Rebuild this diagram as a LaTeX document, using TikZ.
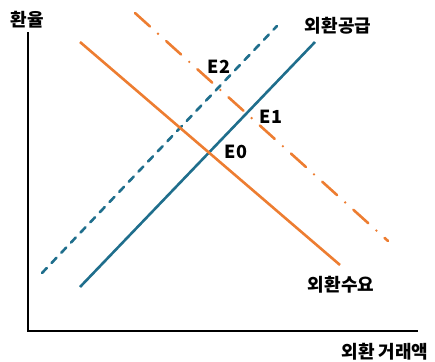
\documentclass[tikz,border=0pt]{standalone}
\usepackage{fontspec}
\newfontfamily\kr{Noto Sans CJK KR}
\setmainfont{Noto Sans}
\definecolor{supblue}{HTML}{1F6E8C}
\definecolor{demorange}{HTML}{ED7D31}
\tikzset{
  axisline/.style={line width=2.6pt, black},
  supline/.style={line width=2.6pt, supblue},
  demline/.style={line width=2.6pt, demorange},
  lbl/.style={font=\kr\bfseries\fontsize{18}{20}\selectfont, inner sep=0pt},
}
\begin{document}
\begin{tikzpicture}[x=1pt,y=-1pt]
\useasboundingbox (0,0) rectangle (435,361);
% axes
\coordinate (ytop) at (28,33);
\coordinate (orig) at (28,331);
\coordinate (xend) at (417,331);
\draw[axisline, line cap=rect] (ytop) -- (orig) -- (xend);
% supply
\coordinate (s0a) at (80,287);
\coordinate (s0b) at (315,42);
\draw[supline] (s0a) -- (s0b);
\coordinate (s1a) at (42,273);
\coordinate (s1b) at (277,26);
\draw[supline, line cap=round, dash pattern=on 7pt off 7pt] (s1a) -- (s1b);
% demand
\coordinate (d0a) at (80,42);
\coordinate (d0b) at (340,265);
\draw[demline] (d0a) -- (d0b);
\coordinate (d1a) at (135,13);
\coordinate (d1b) at (388,241);
\draw[demline, line cap=round, dash pattern=on 20pt off 11pt on 0pt off 11pt] (d1a) -- (d1b);
% labels
\node[lbl] (yl) at (27,20) {환율};
\node[lbl] (xl) at (385,352) {외환 거래액};
\node[lbl] (sl) at (338,26) {외환공급};
\node[lbl] (dl) at (341,285) {외환수요};
\node[lbl] (e2) at (219,67) {E2};
\node[lbl] (e1) at (271,117) {E1};
\node[lbl] (e0) at (236,152) {E0};
\end{tikzpicture}
\end{document}
